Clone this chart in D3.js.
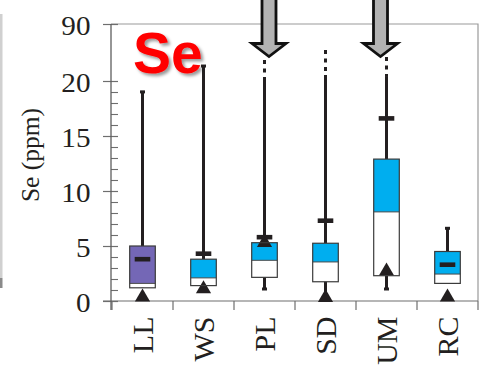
<!DOCTYPE html>
<html>
<head>
<meta charset="utf-8">
<script src="https://cdn.jsdelivr.net/npm/d3@7"></script>
<style>
  body { margin: 0; background: #fff; }
  svg { display: block; }
</style>
</head>
<body>
<svg id="chart" width="485" height="365"></svg>
<script>
// Se concentrations (ppm) by site
const categories   = ["LL", "WS", "PL", "SD", "UM", "RC"];
const q1           = [1.2, 1.4, 2.15, 1.75, 2.3, 1.6];
const median       = [1.6, 2.1, 3.7, 3.55, 8.1, 2.45];
const q3           = [5.0, 3.8, 5.3, 5.25, 12.9, 4.5];
const whiskerLow   = [1.2, 1.4, 1.0, 0.5, 1.0, 1.6];
const whiskerHigh  = [19.1, 39.6, 22.5, 27.4, 26.1, 6.7];
const brokenMax    = [null, null, 45.8, 58, 49.5, null];   // dotted extension above the break
const means        = [3.8, 4.3, 5.8, 7.3, 16.6, 3.3];
const triangleVals = [0.55, 1.3, 5.5, 0.5, 2.9, 0.55];
const boxColors    = ["#7467b6", "#00aeef", "#00aeef", "#00aeef", "#00aeef", "#00aeef"];
const yMajorTicks  = [0, 5, 10, 15, 20, 90];
const yMinorTicks  = d3.range(1, 20).filter(v => v % 5 !== 0);
const arrowCats    = ["PL", "UM"];
const arrowValue   = 47;
const yTitle       = "Se (ppm)";
const elementLabel = "Se";

const svg = d3.select("#chart");
const ink = "#231f20";
const serif = "'Liberation Serif', 'Times New Roman', serif";

const axisX = 111;
const x = d3.scaleBand().domain(categories).range([112, 478]).padding(0);
// broken value axis: 0-20 linear, then compressed 20-90
const y = d3.scaleLinear().domain([0, 20, 90]).range([301, 81, 24]);

// slide edge on the far left
svg.append("rect").attr("x", 0).attr("y", 14).attr("width", 2.5).attr("height", 264).attr("fill", "#d0d0d0");
svg.append("rect").attr("x", 0).attr("y", 278).attr("width", 2.5).attr("height", 10).attr("fill", "#8a8a8a");

// frame (top and right)
svg.append("path")
  .attr("d", `M${axisX},${y(90)}H${x.range()[1]}V${y(0)}`)
  .attr("fill", "none").attr("stroke", "#9a9a9a").attr("stroke-width", 1.2);

// x axis
const gx = svg.append("g").attr("transform", `translate(0,${y(0)})`)
  .call(d3.axisBottom(x).tickSize(0).tickPadding(0));
gx.select(".domain").remove();
gx.selectAll(".tick text")
  .attr("x", null).attr("y", null).attr("dy", null)
  .attr("text-anchor", "end")
  .attr("transform", "translate(10.5,15.5) rotate(-90)")
  .attr("font-family", serif).attr("font-size", 30).attr("fill", ink);
svg.append("line")
  .attr("x1", 103).attr("x2", x.range()[1]).attr("y1", y(0)).attr("y2", y(0))
  .attr("stroke", "#6e6e6e").attr("stroke-width", 1.2);
const bounds = categories.map(c => x(c)).concat([x.range()[1]]);
svg.selectAll("line.xtick").data(bounds).join("line")
  .attr("class", "xtick")
  .attr("x1", d => d).attr("x2", d => d)
  .attr("y1", y(0)).attr("y2", y(0) + 9)
  .attr("stroke", "#6e6e6e").attr("stroke-width", 1.2);

// y axis: major ticks with labels
const gy = svg.append("g").attr("transform", `translate(${axisX},0)`)
  .call(d3.axisLeft(y).tickValues(yMajorTicks).tickFormat(d3.format("d")).tickSizeOuter(0));
gy.select(".domain").remove();
gy.selectAll(".tick line").attr("x1", -8).attr("x2", 7).attr("stroke", "#6e6e6e").attr("stroke-width", 1.2);
gy.selectAll(".tick text")
  .attr("x", -20.5 / 1.08).attr("dy", "0.38em")
  .attr("transform", "scale(1.08,1)")
  .attr("font-family", serif).attr("font-size", 27).attr("fill", ink);

// y axis: minor ticks (inward)
const gyMinor = svg.append("g").attr("transform", `translate(${axisX},0)`)
  .call(d3.axisLeft(y).tickValues(yMinorTicks).tickFormat("").tickSize(-7).tickSizeOuter(0));
gyMinor.select(".domain").remove();
gyMinor.selectAll(".tick line").attr("stroke", "#6e6e6e").attr("stroke-width", 1.1);

svg.append("line")
  .attr("x1", axisX).attr("x2", axisX).attr("y1", y(90)).attr("y2", y(0) + 9)
  .attr("stroke", "#5e5e5e").attr("stroke-width", 1.3);

// y title
svg.append("text")
  .attr("transform", "translate(38.5,155) rotate(-90)")
  .attr("text-anchor", "middle")
  .attr("font-family", serif).attr("font-size", 25.5).attr("fill", ink)
  .text(yTitle);

// box plots
const boxW = 25.6;
const rows = categories.map((c, i) => ({
  c, i, cx: x(c) + x.bandwidth() / 2,
  q1: q1[i], med: median[i], q3: q3[i],
  lo: whiskerLow[i], hi: whiskerHigh[i], broken: brokenMax[i],
  mean: means[i], tri: triangleVals[i], color: boxColors[i]
}));

const marks = svg.append("g");
rows.forEach(d => {
  const g = marks.append("g");
  // whisker (solid)
  g.append("line")
    .attr("x1", d.cx).attr("x2", d.cx)
    .attr("y1", y(d.lo)).attr("y2", y(d.hi))
    .attr("stroke", ink).attr("stroke-width", 3);
  // dotted continuation above the axis break
  if (d.broken != null) {
    g.append("line")
      .attr("x1", d.cx).attr("x2", d.cx)
      .attr("y1", y(d.broken)).attr("y2", y(d.hi))
      .attr("stroke", ink).attr("stroke-width", 3)
      .attr("stroke-dasharray", "4,4.5");
  } else if (d.hi > d.q3) {
    g.append("rect")
      .attr("x", d.cx - 2.5).attr("width", 5)
      .attr("y", y(d.hi) - 0.5).attr("height", 3)
      .attr("fill", ink);
  }
  if (d.lo < d.q1) {
    g.append("rect")
      .attr("x", d.cx - 2.5).attr("width", 5)
      .attr("y", y(d.lo) - 2.5).attr("height", 3)
      .attr("fill", ink);
  }
  // box fills: white lower half, coloured upper half
  g.append("rect")
    .attr("x", d.cx - boxW / 2).attr("width", boxW)
    .attr("y", y(d.q3)).attr("height", y(d.q1) - y(d.q3))
    .attr("fill", "#fff");
  g.append("rect")
    .attr("x", d.cx - boxW / 2).attr("width", boxW)
    .attr("y", y(d.q3)).attr("height", y(d.med) - y(d.q3))
    .attr("fill", d.color);
  // triangle marker
  const ty = y(d.tri);
  g.append("path")
    .attr("d", `M${d.cx},${ty - 6.5}L${d.cx + 7.6},${ty + 6.5}L${d.cx - 7.6},${ty + 6.5}Z`)
    .attr("fill", ink);
  // box outline and median line
  g.append("line")
    .attr("x1", d.cx - boxW / 2).attr("x2", d.cx + boxW / 2)
    .attr("y1", y(d.med)).attr("y2", y(d.med))
    .attr("stroke", "#4a4a4a").attr("stroke-width", 1);
  g.append("rect")
    .attr("x", d.cx - boxW / 2).attr("width", boxW)
    .attr("y", y(d.q3)).attr("height", y(d.q1) - y(d.q3))
    .attr("fill", "none").attr("stroke", "#3b3b3b").attr("stroke-width", 1.2);
  // mean marker
  g.append("rect")
    .attr("x", d.cx - 7.8).attr("width", 15.6)
    .attr("y", y(d.mean) - 2.3).attr("height", 4.6)
    .attr("fill", ink);
});

// arrows pointing at the off-scale whiskers
const arrowShift = { PL: 4.5, UM: -6 };
arrowCats.forEach(c => {
  const ax = x(c) + x.bandwidth() / 2 + arrowShift[c];
  const tip = y(arrowValue) - 2.5;
  const base = tip - 13;
  svg.append("path")
    .attr("d", `M${ax - 7},-5V${base}H${ax - 17}L${ax},${tip}L${ax + 17},${base}H${ax + 7}V-5Z`)
    .attr("fill", "#b3b3b3").attr("stroke", "#111").attr("stroke-width", 2.8)
    .attr("stroke-linejoin", "miter");
});

// element label with drop shadow
const defs = svg.append("defs");
const f = defs.append("filter").attr("id", "shadow").attr("x", "-20%").attr("y", "-20%").attr("width", "140%").attr("height", "140%");
f.append("feDropShadow").attr("dx", 2.5).attr("dy", 2.5).attr("stdDeviation", 1.5)
  .attr("flood-color", "#000").attr("flood-opacity", 0.4);
svg.append("text")
  .attr("x", 133).attr("y", 73)
  .attr("font-family", "'Liberation Sans', Arial, sans-serif")
  .attr("font-weight", "bold").attr("font-size", 57)
  .attr("fill", "#ff0000").attr("filter", "url(#shadow)")
  .text(elementLabel);
</script>
</body>
</html>
